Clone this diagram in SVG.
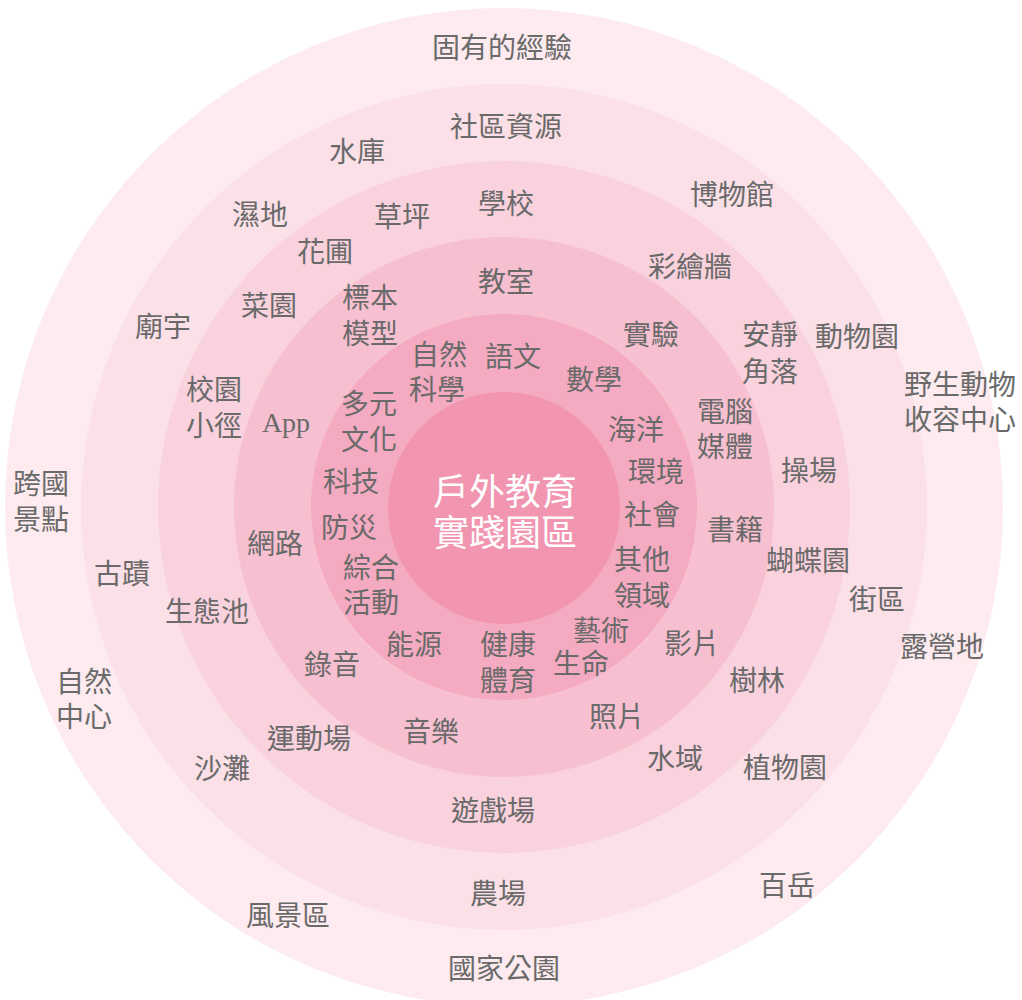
<svg xmlns="http://www.w3.org/2000/svg" width="1022" height="1000" viewBox="0 0 1022 1000">
<style>
.l{font-family:"Noto Sans CJK TC","Noto Sans CJK SC",sans-serif;font-size:28px;fill:#6a6a6a;text-anchor:middle}
.a{font-family:"Liberation Serif",serif;font-size:28px;fill:#6a6a6a;text-anchor:middle}
.c{font-family:"Noto Sans CJK TC","Noto Sans CJK SC",sans-serif;font-size:36px;fill:#ffffff;text-anchor:middle}
</style>
<rect width="1022" height="1000" fill="#ffffff"/>
<g id="rings">
<circle id="ring6" cx="504" cy="507" r="499" fill="#fdebef"/>
<circle id="ring5" cx="504" cy="507" r="423" fill="#fbe0e7"/>
<circle id="ring4" cx="504" cy="507" r="346" fill="#f9d2dd"/>
<circle id="ring3" cx="504" cy="507" r="270" fill="#f7c0d0"/>
<circle id="ring2" cx="504" cy="507" r="193" fill="#f4aac0"/>
<circle id="ring1" cx="504" cy="508" r="116" fill="#f195b0"/>
</g>
<g id="center"><text class="c" x="505" y="505">戶外教育</text><text class="c" x="505" y="546">實踐園區</text></g>
<g id="labels">
<text class="l" x="502" y="58">固有的經驗</text>
<text class="l" x="506" y="137">社區資源</text>
<text class="l" x="357" y="162">水庫</text>
<text class="l" x="732" y="205">博物館</text>
<text class="l" x="260" y="225">濕地</text>
<text class="l" x="402" y="227">草坪</text>
<text class="l" x="506" y="214">學校</text>
<text class="l" x="325" y="262">花圃</text>
<text class="l" x="690" y="277">彩繪牆</text>
<text class="l" x="506" y="292">教室</text>
<text class="l" x="269" y="316">菜園</text>
<text class="l" x="370" y="308">標本</text>
<text class="l" x="370" y="344">模型</text>
<text class="l" x="163" y="337">廟宇</text>
<text class="l" x="651" y="345">實驗</text>
<text class="l" x="770" y="345">安靜</text>
<text class="l" x="770" y="382">角落</text>
<text class="l" x="857" y="347">動物園</text>
<text class="l" x="439" y="365">自然</text>
<text class="l" x="437" y="400">科學</text>
<text class="l" x="513" y="367">語文</text>
<text class="l" x="594" y="390">數學</text>
<text class="l" x="960" y="395">野生動物</text>
<text class="l" x="960" y="430">收容中心</text>
<text class="l" x="214" y="400">校園</text>
<text class="l" x="214" y="436">小徑</text>
<text class="a" x="286" y="432">App</text>
<text class="l" x="369" y="414">多元</text>
<text class="l" x="369" y="450">文化</text>
<text class="l" x="636" y="440">海洋</text>
<text class="l" x="725" y="422">電腦</text>
<text class="l" x="725" y="457">媒體</text>
<text class="l" x="41" y="494">跨國</text>
<text class="l" x="41" y="530">景點</text>
<text class="l" x="809" y="481">操場</text>
<text class="l" x="656" y="482">環境</text>
<text class="l" x="351" y="492">科技</text>
<text class="l" x="652" y="525">社會</text>
<text class="l" x="735" y="540">書籍</text>
<text class="l" x="349" y="538">防災</text>
<text class="l" x="275" y="554">網路</text>
<text class="l" x="642" y="570">其他</text>
<text class="l" x="642" y="606">領域</text>
<text class="l" x="371" y="578">綜合</text>
<text class="l" x="371" y="613">活動</text>
<text class="l" x="808" y="571">蝴蝶園</text>
<text class="l" x="122" y="584">古蹟</text>
<text class="l" x="207" y="622">生態池</text>
<text class="l" x="877" y="610">街區</text>
<text class="l" x="601" y="641">藝術</text>
<text class="l" x="581" y="674">生命</text>
<text class="l" x="692" y="654">影片</text>
<text class="l" x="942" y="657">露營地</text>
<text class="l" x="414" y="655">能源</text>
<text class="l" x="508" y="655">健康</text>
<text class="l" x="508" y="691">體育</text>
<text class="l" x="332" y="675">錄音</text>
<text class="l" x="757" y="691">樹林</text>
<text class="l" x="84" y="692">自然</text>
<text class="l" x="84" y="727">中心</text>
<text class="l" x="617" y="727">照片</text>
<text class="l" x="431" y="742">音樂</text>
<text class="l" x="309" y="749">運動場</text>
<text class="l" x="675" y="769">水域</text>
<text class="l" x="222" y="779">沙灘</text>
<text class="l" x="785" y="778">植物園</text>
<text class="l" x="493" y="821">遊戲場</text>
<text class="l" x="787" y="896">百岳</text>
<text class="l" x="498" y="904">農場</text>
<text class="l" x="288" y="926">風景區</text>
<text class="l" x="504" y="979">國家公園</text>
</g>
</svg>
